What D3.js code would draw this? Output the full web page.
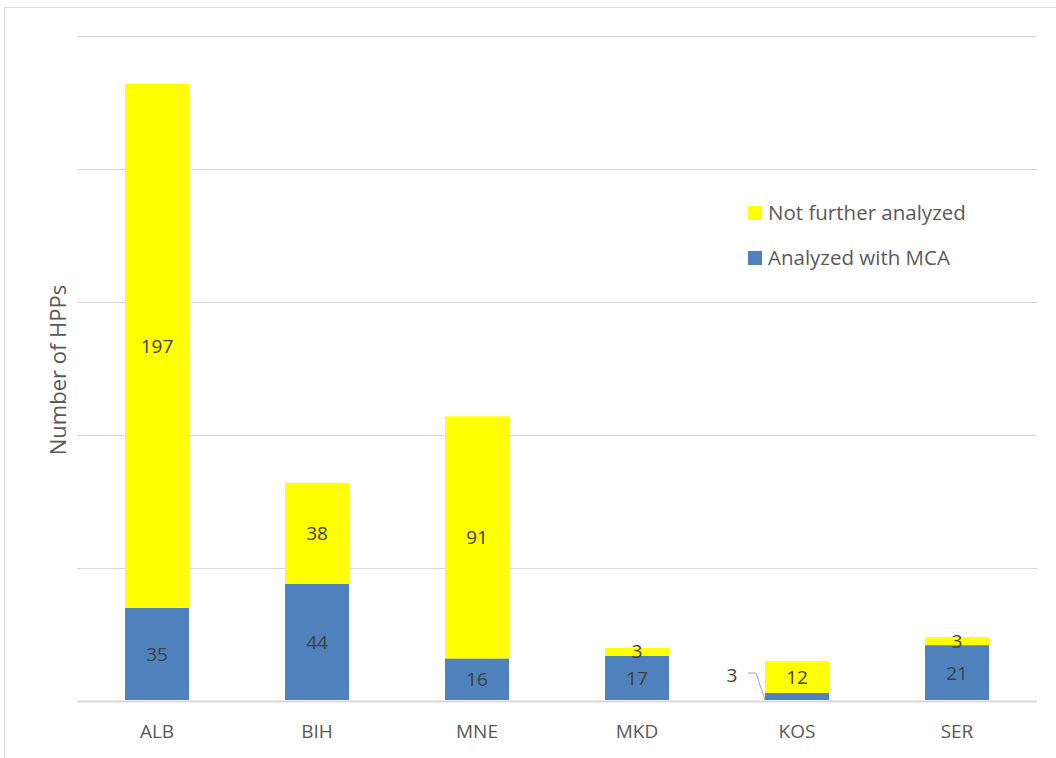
<!DOCTYPE html>
<html><head><meta charset="utf-8">
<script src="https://cdn.jsdelivr.net/npm/d3@7"></script>
<style>body{margin:0;background:#fff}svg{display:block}</style>
</head><body>
<svg id="c" width="1056" height="758"></svg>
<script>
const categories = ["ALB","BIH","MNE","MKD","KOS","SER"];
const analyzed = [35,44,16,17,3,21];
const notAnalyzed = [197,38,91,3,12,3];
const yTicks = [0,50,100,150,200,250];
const seriesNames = ["Not further analyzed","Analyzed with MCA"];
const colors = {analyzed:"#4f81bd", not:"#ffff00"};
const font = "'Open Sans', 'Liberation Sans', sans-serif";

const svg = d3.select("#c");
svg.append("rect").attr("x",4.5).attr("y",7.5).attr("width",1100).attr("height",800)
  .attr("fill","#fff").attr("stroke","#d9d9d9");

const x = d3.scaleBand().domain(categories).range([77,1037]).paddingInner(0.6).paddingOuter(0.3);
const y = d3.scaleLinear().domain([0,250]).range([701,36]);

svg.append("g").selectAll("line").data(yTicks).join("line")
  .attr("x1",77).attr("x2",1037).attr("y1",d=>Math.round(y(d))+0.5).attr("y2",d=>Math.round(y(d))+0.5)
  .attr("stroke","#d9d9d9").attr("stroke-width",d=>d===0?2:1.2);

const data = categories.map((c,i)=>({c,a:analyzed[i],n:notAnalyzed[i]}));
const g = svg.append("g");
g.selectAll(".a").data(data).join("rect")
  .attr("x",d=>x(d.c)).attr("width",x.bandwidth())
  .attr("y",d=>y(d.a)).attr("height",d=>y(0)-y(d.a)-1).attr("fill",colors.analyzed);
g.selectAll(".n").data(data).join("rect")
  .attr("x",d=>x(d.c)).attr("width",x.bandwidth())
  .attr("y",d=>y(d.a+d.n)).attr("height",d=>y(d.a)-y(d.a+d.n)).attr("fill",colors.not);

// labels
const lab = svg.append("g").attr("font-family",font).attr("font-size",19).attr("fill","#404040").attr("text-anchor","middle");
data.forEach(d=>{
  const cx = x(d.c)+x.bandwidth()/2;
  lab.append("text").attr("x",cx).attr("y",(y(d.a+d.n)+y(d.a))/2).attr("dy","0.35em").text(d.n);
  if (d.a >= 10) {
    lab.append("text").attr("x",cx).attr("y",(y(0)+y(d.a))/2).attr("dy","0.35em").text(d.a);
  } else {
    const x0 = x(d.c);
    lab.append("text").attr("x",x0-33).attr("y",y(0)-26).attr("dy","0.35em").text(d.a);
    svg.append("path").attr("d",`M${x0-17},${y(0)-28}H${x0-9}L${x0},${y(0)-1}`)
      .attr("fill","none").attr("stroke","#a6a6a6").attr("stroke-width",1);
  }
});

// x axis labels
svg.append("g").attr("font-family",font).attr("font-size",19).attr("fill","#595959").attr("text-anchor","middle")
  .selectAll("text").data(categories).join("text")
  .attr("x",d=>x(d)+x.bandwidth()/2).attr("y",738).text(d=>d);

// y title
svg.append("text").attr("transform","translate(66,370) rotate(-90)").attr("text-anchor","middle")
  .attr("font-family",font).attr("font-size",22).attr("fill","#595959").text("Number of HPPs");

// legend
const leg = svg.append("g").attr("font-family",font).attr("font-size",20.5).attr("fill","#595959");
const legColors = [colors.not, colors.analyzed];
seriesNames.forEach((s,i)=>{
  const ly = 213 + i*45;
  leg.append("rect").attr("x",748).attr("y",ly-7).attr("width",14).attr("height",14).attr("fill",legColors[i]);
  leg.append("text").attr("x",768).attr("y",ly).attr("dy","0.35em").text(s);
});
</script>
</body></html>
